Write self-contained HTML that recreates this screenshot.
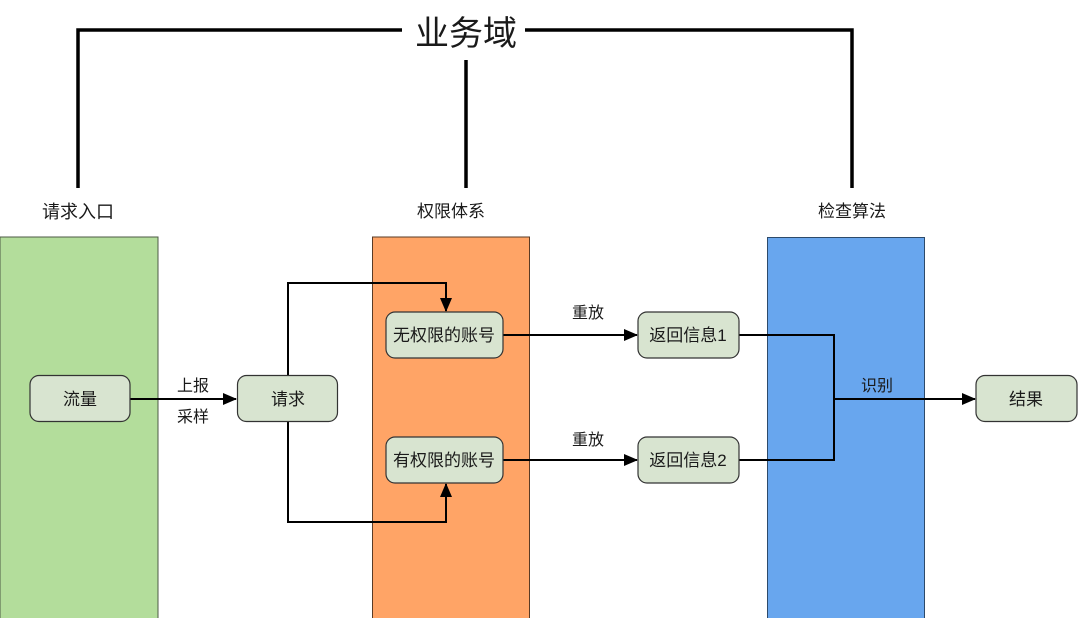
<!DOCTYPE html>
<html><head><meta charset="utf-8"><style>
html,body{margin:0;padding:0;background:#fff;}
svg{display:block;}
text{font-family:"Liberation Sans","Noto Sans CJK SC",sans-serif;fill:#1a1a1a;}
</style></head><body>
<svg width="1080" height="618" viewBox="0 0 1080 618" xmlns="http://www.w3.org/2000/svg">
<defs>
<marker id="ar" markerWidth="10" markerHeight="10" refX="9" refY="5" orient="auto" markerUnits="userSpaceOnUse"><path d="M0,0 L10,5 L0,10 z" fill="#000"/></marker>
<marker id="ar2" markerWidth="14" markerHeight="12" refX="13" refY="6" orient="auto" markerUnits="userSpaceOnUse"><path d="M0,0 L14,6 L0,12 z" fill="#000"/></marker>
</defs>
<!-- top bracket -->
<path d="M78,188 V30 H402" fill="none" stroke="#000" stroke-width="3.5"/>
<path d="M525,30 H852 V188" fill="none" stroke="#000" stroke-width="3.5"/>
<path d="M466,60 V188" fill="none" stroke="#000" stroke-width="3.5"/>
<text x="466" y="45" font-size="34" text-anchor="middle">业务域</text>
<text x="78" y="218" font-size="18" text-anchor="middle">请求入口</text>
<text x="451" y="217" font-size="17" text-anchor="middle">权限体系</text>
<text x="852" y="217" font-size="17" text-anchor="middle">检查算法</text>
<!-- columns -->
<rect x="0" y="237" width="158" height="385" fill="#b3dd9b" stroke="#4d5a45" stroke-width="1"/>
<rect x="372.5" y="237" width="157" height="385" fill="#ffa466" stroke="#5a3b25" stroke-width="1"/>
<rect x="767.5" y="237.5" width="157" height="385" fill="#68a6ee" stroke="#2d4a6a" stroke-width="1"/>
<!-- connectors -->
<g fill="none" stroke="#000" stroke-width="2">
<path d="M130,399 H236" marker-end="url(#ar2)"/>
<path d="M288,375 V283 H446 V311" marker-end="url(#ar2)"/>
<path d="M288,422 V522 H446 V484" marker-end="url(#ar2)"/>
<path d="M503,335 H637" marker-end="url(#ar2)"/>
<path d="M503,460 H637" marker-end="url(#ar2)"/>
<path d="M739,335 H834 V460 H739"/>
<path d="M834,399 H975" marker-end="url(#ar2)"/>
</g>
<!-- nodes -->
<g fill="#d8e4d0" stroke="#333" stroke-width="1.2">
<rect x="30" y="375.5" width="100" height="46" rx="9"/>
<rect x="237.5" y="375.5" width="100" height="46" rx="9"/>
<rect x="386" y="312" width="117" height="46" rx="9"/>
<rect x="386" y="437" width="117" height="46" rx="9"/>
<rect x="638" y="312" width="101" height="46" rx="9"/>
<rect x="638" y="437" width="101" height="46" rx="9"/>
<rect x="976" y="375.5" width="101" height="46" rx="9"/>
</g>
<g font-size="17" text-anchor="middle">
<text x="80" y="405">流量</text>
<text x="288" y="405">请求</text>
<text x="444" y="341">无权限的账号</text>
<text x="444" y="466">有权限的账号</text>
<text x="688" y="341">返回信息1</text>
<text x="688" y="466">返回信息2</text>
<text x="1026" y="405">结果</text>
</g>
<g font-size="16" text-anchor="middle">
<text x="193" y="391">上报</text>
<text x="193" y="422">采样</text>
<text x="588" y="318">重放</text>
<text x="588" y="445">重放</text>
<text x="877" y="391">识别</text>
</g>
</svg>
</body></html>
